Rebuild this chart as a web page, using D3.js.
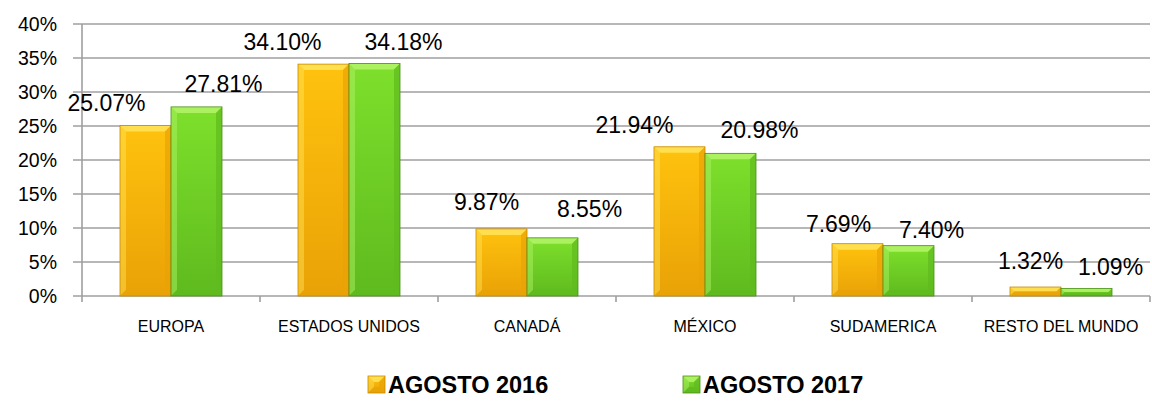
<!DOCTYPE html>
<html>
<head>
<meta charset="utf-8">
<script src="https://cdn.jsdelivr.net/npm/d3@7"></script>
<style>
  body { margin: 0; background: #fff; }
  svg { display: block; }
</style>
</head>
<body>
<div id="chart"></div>
<script>
const categories = ['EUROPA', 'ESTADOS UNIDOS', 'CANADÁ', 'MÉXICO', 'SUDAMERICA', 'RESTO DEL MUNDO']
const seriesNames = ['AGOSTO 2016', 'AGOSTO 2017']
const values2016 = [25.07, 34.10, 9.87, 21.94, 7.69, 1.32]
const values2017 = [27.81, 34.18, 8.55, 20.98, 7.40, 1.09]
const yTicks = [0, 5, 10, 15, 20, 25, 30, 35, 40]

// label nudges (dx, dy from bar centre / top), as placed in the original
const labelNudge = [
    [[-39, -15], [27, -15]],
    [[-41, -14], [29, -14]],
    [[-15, -19], [37, -21]],
    [[-45, -14], [29, -15]],
    [[-19, -12], [23, -8]],
    [[-5, -18], [24, -14]],
]

const WIDTH = 1152
const HEIGHT = 402
const margin = { top: 24, right: 2, bottom: 106, left: 82 }
const FONT = '"Liberation Sans", Arial, sans-serif'
const COLORS = [
    { light: '#FFE45A', mid: '#FFC20E', dark: '#E9A206', edge: '#C98A00' },
    { light: '#B4F56A', mid: '#7EE02C', dark: '#5FBA1E', edge: '#4C8F1A' },
]

const svg = d3.select('#chart')
    .append('svg')
    .attr('width', WIDTH)
    .attr('height', HEIGHT)

const x0 = d3.scaleBand()
    .domain(categories)
    .range([margin.left, WIDTH - margin.right])

const x1 = d3.scaleBand()
    .domain(seriesNames)
    .range([0, x0.bandwidth()])
    .paddingOuter(0.745)

const y = d3.scaleLinear()
    .domain([0, 40])
    .range([HEIGHT - margin.bottom, margin.top])

/**
 * Gradients
 */
const defs = svg.append('defs')
COLORS.forEach((c, i) => {
    const g = defs.append('linearGradient')
        .attr('id', `grad${i}`)
        .attr('x1', 0).attr('y1', 0).attr('x2', 0).attr('y2', 1)
    g.append('stop').attr('offset', '0%').attr('stop-color', c.mid)
    g.append('stop').attr('offset', '100%').attr('stop-color', c.dark)
})

/**
 * Grid + axes
 */
const gridG = svg.append('g')
gridG.selectAll('line')
    .data(yTicks)
    .join('line')
    .attr('x1', margin.left - 9)
    .attr('x2', WIDTH - margin.right)
    .attr('y1', d => y(d))
    .attr('y2', d => y(d))
    .attr('stroke', '#9F9F9F')
    .attr('stroke-width', 1.6)

svg.append('line')
    .attr('x1', margin.left).attr('x2', margin.left)
    .attr('y1', y(40)).attr('y2', y(0))
    .attr('stroke', '#9F9F9F')
    .attr('stroke-width', 1.6)

const boundaries = categories.map(c => x0(c)).concat([x0.range()[1]])
svg.append('g').selectAll('line')
    .data(boundaries)
    .join('line')
    .attr('x1', d => d).attr('x2', d => d)
    .attr('y1', y(0)).attr('y2', y(0) + 6)
    .attr('stroke', '#9F9F9F')
    .attr('stroke-width', 1.6)

svg.append('g').selectAll('text')
    .data(yTicks)
    .join('text')
    .attr('x', 57)
    .attr('y', d => y(d))
    .attr('dy', '0.35em')
    .attr('text-anchor', 'end')
    .attr('font-family', FONT)
    .attr('font-size', 19.5)
    .attr('fill', '#000')
    .text(d => `${d}%`)

svg.append('g').selectAll('text')
    .data(categories)
    .join('text')
    .attr('x', d => x0(d) + x0.bandwidth() / 2)
    .attr('y', 332)
    .attr('text-anchor', 'middle')
    .attr('font-family', FONT)
    .attr('font-size', 16)
    .attr('fill', '#000')
    .text(d => d)

/**
 * Bevelled bar
 */
function bevelBar(g, bx, by, bw, bh, ci) {
    const c = COLORS[ci]
    const b = Math.min(6, bh / 2, bw / 2)
    g.append('rect')
        .attr('x', bx).attr('y', by)
        .attr('width', bw).attr('height', bh)
        .attr('fill', `url(#grad${ci})`)
    // top facet
    g.append('path')
        .attr('d', `M${bx},${by}L${bx + bw},${by}L${bx + bw - b},${by + b}L${bx + b},${by + b}Z`)
        .attr('fill', c.light).attr('opacity', 0.85)
    // left facet
    g.append('path')
        .attr('d', `M${bx},${by}L${bx + b},${by + b}L${bx + b},${by + bh - b}L${bx},${by + bh}Z`)
        .attr('fill', c.light).attr('opacity', 0.45)
    // right facet
    g.append('path')
        .attr('d', `M${bx + bw},${by}L${bx + bw},${by + bh}L${bx + bw - b},${by + bh - b}L${bx + bw - b},${by + b}Z`)
        .attr('fill', c.dark).attr('opacity', 0.7)
    // bottom facet
    g.append('path')
        .attr('d', `M${bx},${by + bh}L${bx + b},${by + bh - b}L${bx + bw - b},${by + bh - b}L${bx + bw},${by + bh}Z`)
        .attr('fill', c.dark).attr('opacity', 0.8)
    g.append('rect')
        .attr('x', bx).attr('y', by)
        .attr('width', bw).attr('height', bh)
        .attr('fill', 'none')
        .attr('stroke', c.edge)
        .attr('stroke-width', 0.8)
}

const barData = []
categories.forEach((cat, i) => {
    [values2016[i], values2017[i]].forEach((v, s) => {
        barData.push({ cat, s, v, nudge: labelNudge[i][s] })
    })
})

const barsG = svg.append('g')
barData.forEach(d => {
    const bx = x0(d.cat) + x1(seriesNames[d.s])
    const by = y(d.v)
    const bh = y(0) - by
    const g = barsG.append('g')
    bevelBar(g, bx, by, x1.bandwidth(), bh, d.s)
})

svg.append('g').selectAll('text')
    .data(barData)
    .join('text')
    .attr('x', d => x0(d.cat) + x1(seriesNames[d.s]) + x1.bandwidth() / 2 + d.nudge[0])
    .attr('y', d => y(d.v) + d.nudge[1])
    .attr('text-anchor', 'middle')
    .attr('font-family', FONT)
    .attr('font-size', 23)
    .attr('fill', '#000')
    .text(d => `${d.v.toFixed(2)}%`)

/**
 * Legend
 */
const legendX = [368, 683]
seriesNames.forEach((name, i) => {
    const g = svg.append('g')
    bevelBar(g, legendX[i], 376, 17, 17, i)
    g.append('text')
        .attr('x', legendX[i] + 20)
        .attr('y', 393)
        .attr('font-family', FONT)
        .attr('font-weight', 'bold')
        .attr('font-size', 23.5)
        .attr('fill', '#000')
        .text(name)
})
</script>
</body>
</html>
